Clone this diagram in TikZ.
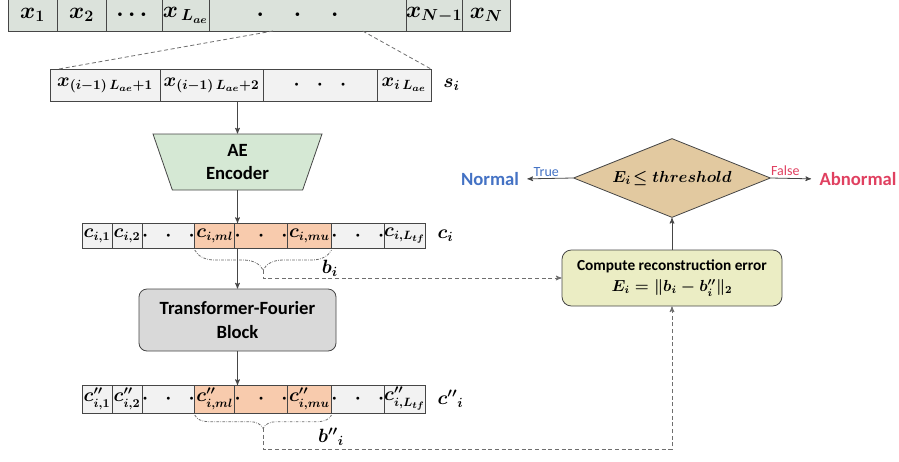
\documentclass[tikz,border=0pt]{standalone}
\usepackage{amsmath}
\usepackage{fontspec}
\setmainfont{Carlito}
\usepackage{tikz}
\usetikzlibrary{arrows,positioning,shapes.geometric,decorations.pathreplacing,calc}

\definecolor{edge}{RGB}{70,70,70}
\definecolor{guidegrey}{RGB}{110,110,110}
\definecolor{rowgreen}{RGB}{219,226,219}
\definecolor{cellgrey}{RGB}{242,242,242}
\definecolor{encgreen}{RGB}{213,232,212}
\definecolor{bandorange}{RGB}{248,203,173}
\definecolor{blockgrey}{RGB}{217,217,217}
\definecolor{errfill}{RGB}{235,237,196}
\definecolor{decfill}{RGB}{226,201,160}
\definecolor{normalblue}{RGB}{68,114,196}
\definecolor{abnormalred}{RGB}{224,64,96}

\begin{document}
\begin{tikzpicture}[->,>=stealth',x=0.75pt,y=-0.75pt,line width=0.6pt,
  cell/.style={draw=edge,outer sep=0pt,inner sep=0pt,minimum width=#1*0.75pt},
  toprow/.style={cell=#1,fill=rowgreen,minimum height=32*0.75pt,font=\boldmath\fontsize{17}{20}\selectfont},
  segrow/.style={cell=#1,fill=cellgrey,minimum height=32*0.75pt,font=\boldmath\fontsize{14}{17}\selectfont},
  coderow/.style={cell=#1,fill=cellgrey,minimum height=25*0.75pt,font=\boldmath\fontsize{13.5}{16}\selectfont},
  outrow/.style={coderow=#1,minimum height=28*0.75pt},
  band/.style={fill=bandorange},
  rowlabel/.style={font=\boldmath\fontsize{14}{17}\selectfont,inner sep=0pt},
  encoder/.style={trapezium,shape border rotate=180,trapezium left angle=61,trapezium right angle=61,
    trapezium stretches body,minimum width=169*0.75pt,minimum height=56*0.75pt,inner sep=0pt,
    draw=edge,fill=encgreen,align=center,font=\bfseries\fontsize{14}{17}\selectfont},
  tfblock/.style={draw=edge,fill=blockgrey,rounded corners=6pt,minimum width=197*0.75pt,
    minimum height=62*0.75pt,align=center,font=\bfseries\fontsize{14}{18}\selectfont},
  errbox/.style={draw=edge,fill=errfill,rounded corners=7pt,minimum width=220*0.75pt,
    minimum height=56*0.75pt,align=center,font=\boldmath\bfseries\fontsize{11.5}{16}\selectfont},
  decision/.style={diamond,aspect=2.5,draw=edge,fill=decfill,minimum width=197*0.75pt,
    minimum height=79*0.75pt,inner sep=0pt,font=\boldmath\fontsize{13}{16}\selectfont},
  verdict/.style={font=\bfseries\fontsize{14}{17}\selectfont,inner sep=0pt},
  branch/.style={font=\fontsize{10.5}{12}\selectfont,inner sep=1.5pt},
  guide/.style={draw=guidegrey,dash pattern=on 3pt off 2pt},
  bracket/.style={-,draw=guidegrey,dash pattern=on 2pt off 1pt on 0.5pt off 1pt,decorate,
    decoration={brace,mirror,amplitude=#1}}]

  \useasboundingbox (0,0) rectangle (899,461);

  % full series
  \node[toprow=49,anchor=north west] (t1) at (8,-1) {$x_1$};
  \node[toprow=49,right=0pt of t1] (t2) {$x_2$};
  \node[toprow=56,right=0pt of t2] (t3) {$\cdots$};
  \node[toprow=47,right=0pt of t3] (t4) {$x_{\,L_{ae}}$};
  \node[toprow=197,right=0pt of t4] (t5) {$\cdot\hspace{18pt}\cdot\hspace{18pt}\cdot\hspace{15pt}$};
  \node[toprow=48,right=0pt of t5] (t6) {$x_{N-1}$};
  \node[toprow=48,right=0pt of t6] (t7) {$x_N$};

  % segment s_i
  \node[segrow=110,anchor=north west] (s1) at (50,69) {$x_{(i-1)\,L_{ae}+1}$};
  \node[segrow=103,right=0pt of s1] (s2) {$x_{(i-1)\,L_{ae}+2}$};
  \node[segrow=114,right=0pt of s2] (s3) {$\cdot\;\;\cdot\;\;\cdot$};
  \node[segrow=54,right=0pt of s3] (s4) {$x_{i\,L_{ae}}$};
  \node[rowlabel,right=9pt of s4] (slab) {$s_i$};

  \draw[-,guide] ($(t5.south west)!0.325!(t5.south east)$) -- ($(s1.north west)!0.08!(s1.north east)$);
  \draw[-,guide] ($(t5.south west)!0.78!(t5.south east)$) -- (s4.north east);

  \node[encoder] (enc) at (237.5,162) {AE\\Encoder};
  \draw[edge] (enc.north |- s2.south) -- (enc.north);

  % latent c_i
  \node[coderow=30,anchor=north west] (c1) at (82,223) {$c_{i,1}$};
  \node[coderow=30,right=0pt of c1] (c2) {$c_{i,2}$};
  \node[coderow=43,right=0pt of c2] (c3) {$\cdot\;\;\cdot\;\;\cdot$};
  \node[coderow=40,band,right=0pt of c3] (c4) {$c_{i,ml}$};
  \node[coderow=47,band,right=0pt of c4] (c5) {$\cdot\;\;\cdot\;\;\cdot$};
  \node[coderow=44,band,right=0pt of c5] (c6) {$c_{i,mu}$};
  \node[coderow=42,right=0pt of c6] (c7) {$\cdot\;\;\cdot\;\;\cdot$};
  \node[coderow=40,right=0pt of c7] (c8) {$c_{i,L_{tf}}$};
  \node[rowlabel,right=9pt of c8] (clab) {$c_i$};

  \draw[edge] (enc.south) -- (enc.south |- c5.north);

  \draw[bracket=15pt] ($(c4.south west)+(0,2)$) -- ($(c6.south east)+(0,2)$);
  \coordinate (bi) at ($(c4.south west)!0.5!(c6.south east)+(0,22)$);
  \node[rowlabel] (blab) at (330,268) {$b_i$};

  \node[tfblock] (tf) at (237.5,320) {Transformer-Fourier\\Block};
  \draw[edge] (tf.north |- c5.south) -- (tf.north);

  % reconstructed c''_i
  \node[outrow=30,anchor=north west] (d1) at (82,385) {$c''_{i,1}$};
  \node[outrow=30,right=0pt of d1] (d2) {$c''_{i,2}$};
  \node[outrow=43,right=0pt of d2] (d3) {$\cdot\;\;\cdot\;\;\cdot$};
  \node[outrow=40,band,right=0pt of d3] (d4) {$c''_{i,ml}$};
  \node[outrow=47,band,right=0pt of d4] (d5) {$\cdot\;\;\cdot\;\;\cdot$};
  \node[outrow=44,band,right=0pt of d5] (d6) {$c''_{i,mu}$};
  \node[outrow=42,right=0pt of d6] (d7) {$\cdot\;\;\cdot\;\;\cdot$};
  \node[outrow=40,right=0pt of d7] (d8) {$c''_{i,L_{tf}}$};
  \node[rowlabel,right=9pt of d8] (dlab) {${c''}_i$};

  \draw[edge] (tf.south) -- (tf.south |- d5.north);

  \draw[bracket=10pt] ($(d4.south west)+(0,2)$) -- ($(d6.south east)+(0,2)$);
  \coordinate (bbi) at ($(d4.south west)!0.5!(d6.south east)+(0,15)$);
  \node[rowlabel] (bblab) at (331,437) {${b''}_i$};

  % decision side
  \node[errbox] (err) at (672,278) {Compute reconstruction error\\$E_i=\|b_i-b''_i\|_2$};
  \node[decision] (dec) at (672,178) {$E_i\!\leq threshold$};
  \node[verdict,text=normalblue] (norm) at (490,179) {Normal};
  \node[verdict,text=abnormalred] (abn) at (858,179) {Abnormal};

  \draw[guide] (bi) |- (err.west);
  \path (err.south) ++(0,143) coordinate (turn);
  \draw[guide] (bbi) |- (turn) -- (err.south);
  \draw[edge] (err.north) -- (dec.south);
  \draw[edge,shorten >=6pt] (dec.west) -- (norm.east) node[branch,midway,above,text=normalblue] {True};
  \draw[edge,shorten >=6pt] (dec.east) -- (abn.west) node[branch,pos=0.3,above,text=abnormalred] {False};

\end{tikzpicture}
\end{document}
